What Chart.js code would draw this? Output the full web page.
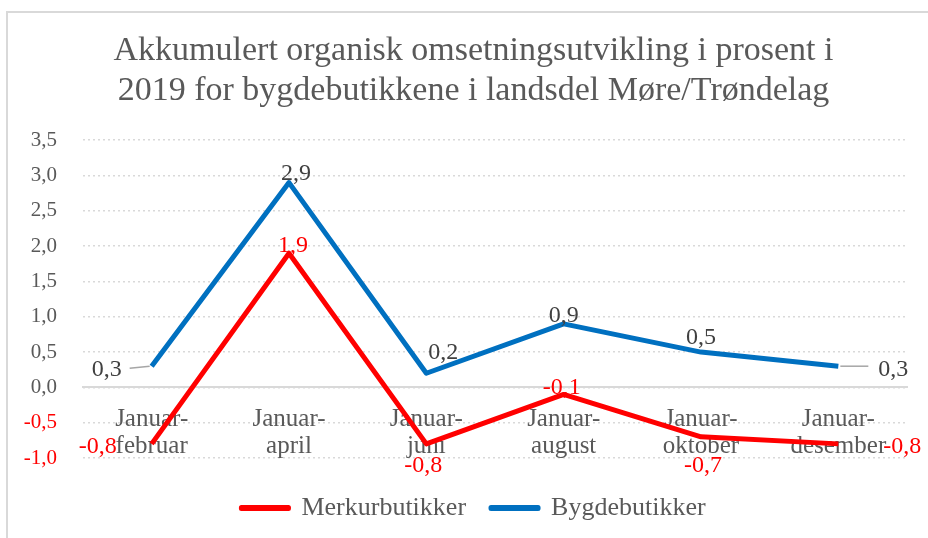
<!DOCTYPE html>
<html>
	<head>
		<title>Akkumulert organisk omsetningsutvikling 2019</title>
		<style type="text/css">
			body{
				margin: 0;
				background: #ffffff;
				overflow: hidden;
			}
			#ramme{
				position: absolute;
				left: 6px;
				top: 11px;
				width: 940px;
				height: 540px;
				border-top: 2px solid #d9d9d9;
				border-left: 2px solid #d9d9d9;
			}
			#chart-container{
				position: absolute;
				left: 0;
				top: 0;
				width: 928px;
				height: 538px;
			}
		</style>
	</head>
	<body>
		<script type="text/javascript" src="https://cdn.jsdelivr.net/npm/chart.js@4.4.1/dist/chart.umd.min.js"></script>

		<div id="ramme"></div>
		<div id="chart-container">
			<canvas id="mycanvas" width="928" height="538"></canvas>
		</div>

		<script type="text/javascript">

			// data lest av figuren
			var perioder = [
				['Januar-', 'februar'],
				['Januar-', 'april'],
				['Januar-', 'juni'],
				['Januar-', 'august'],
				['Januar-', 'oktober'],
				['Januar-', 'desember']
			];
			var merkurbutikker = [-0.8, 1.9, -0.8, -0.1, -0.7, -0.8];
			var bygdebutikker = [0.3, 2.9, 0.2, 0.9, 0.5, 0.3];
			var tittel = ['Akkumulert organisk omsetningsutvikling i prosent i',
				'2019 for bygdebutikkene i landsdel Møre/Trøndelag'];

			// plassering av verdietikettene i forhold til punktet: [dx, dy, justering, hjelpelinje]
			var merkurEtiketter = [[-35, 3, 'right', false], [4, -8, 'center', false], [-3, 22, 'center', false],
				[-2, -7, 'center', false], [2, 29, 'center', false], [45, 3, 'left', false]];
			var bygdeEtiketter = [[-30, 4, 'right', true], [7, -9, 'center', false], [17, -21, 'center', false],
				[0, -8, 'center', false], [0, -14, 'center', false], [40, 4, 'left', true]];

			var skrift = "'Liberation Serif', serif";

			function kommaTall(v){
				return v.toFixed(1).replace('.', ',');
			}

			// tegner verdiene ved hvert punkt, slik Excel gjør
			var etikettPlugin = {
				id: 'verdiEtiketter',
				afterDatasetsDraw: function(chart){
					var ctx = chart.ctx;
					ctx.save();
					ctx.font = '24px ' + skrift;
					ctx.textBaseline = 'middle';
					chart.data.datasets.forEach(function(ds, i){
						var meta = chart.getDatasetMeta(i);
						meta.data.forEach(function(pt, j){
							var e = ds.etiketter[j];
							if(e[3]){
								ctx.strokeStyle = '#a6a6a6';
								ctx.lineWidth = 1.5;
								ctx.beginPath();
								if(e[2] == 'right'){
									ctx.moveTo(pt.x - 2, pt.y);
									ctx.lineTo(pt.x + e[0] + 8, pt.y + 2);
								} else {
									ctx.moveTo(pt.x + 2, pt.y);
									ctx.lineTo(pt.x + e[0] - 10, pt.y);
								}
								ctx.stroke();
							}
							ctx.fillStyle = ds.etikettFarge;
							ctx.textAlign = e[2];
							ctx.fillText(kommaTall(ds.data[j]), pt.x + e[0], pt.y + e[1]);
						});
					});
					ctx.restore();
				}
			};

			var chartdata = {
				labels: perioder,
				datasets: [
					{
						label: 'Merkurbutikker',
						data: merkurbutikker,
						borderColor: '#ff0000',
						backgroundColor: '#ff0000',
						borderWidth: 5,
						borderJoinStyle: 'round',
						pointRadius: 0,
						tension: 0,
						etikettFarge: '#ff0000',
						etiketter: merkurEtiketter
					},
					{
						label: 'Bygdebutikker',
						data: bygdebutikker,
						borderColor: '#0070c0',
						backgroundColor: '#0070c0',
						borderWidth: 5,
						borderJoinStyle: 'round',
						pointRadius: 0,
						tension: 0,
						etikettFarge: '#404040',
						etiketter: bygdeEtiketter
					}
				]
			};

			var ctx = document.getElementById('mycanvas');

			var linjeGraf = new Chart(ctx, {
				type: 'line',
				data: chartdata,
				plugins: [etikettPlugin],
				options: {
					responsive: false,
					animation: false,
					layout: {
						padding: {left: 22, right: 3, top: 0, bottom: 7}
					},
					plugins: {
						title: {
							display: true,
							text: tittel,
							color: '#595959',
							font: {family: skrift, size: 34, weight: 'normal', lineHeight: 1.18},
							padding: {top: 31, bottom: 29}
						},
						legend: {
							display: true,
							position: 'bottom',
							title: {
								display: true,
								text: '',
								font: {size: 10, lineHeight: 1.2},
								padding: 0
							},
							labels: {
								color: '#595959',
								font: {family: skrift, size: 26},
								boxWidth: 47,
								boxHeight: 1,
								padding: 25
							}
						},
						tooltip: {enabled: false}
					},
					scales: {
						x: {
							position: {y: 0},
							offset: true,
							grid: {display: false, drawTicks: false, offset: true},
							border: {display: true, color: '#d9d9d9', width: 2},
							ticks: {
								color: '#595959',
								font: {family: skrift, size: 25, lineHeight: 1.1},
								padding: 18,
								maxRotation: 0,
								autoSkip: false
							}
						},
						y: {
							min: -1,
							max: 3.5,
							afterFit: function(scale){
								scale.width = 61;
							},
							grid: {
								color: '#d9d9d9',
								lineWidth: 1.5,
								drawTicks: false
							},
							border: {display: false, dash: [2, 3]},
							ticks: {
								stepSize: 0.5,
								padding: 26,
								font: {family: skrift, size: 21},
								color: function(c){
									return c.tick.value < 0 ? '#ff0000' : '#595959';
								},
								callback: function(v){
									return kommaTall(v);
								}
							}
						},
						// tom akse til høyre som bare holder av plass, slik at tittel og forklaring blir sentrert som i originalen
						hoyre: {
							type: 'linear',
							position: 'right',
							grid: {display: false, drawTicks: false},
							border: {display: false},
							ticks: {display: false},
							afterFit: function(scale){
								scale.width = 18;
							}
						}
					}
				}
			});
		</script>
	</body>
</html>
